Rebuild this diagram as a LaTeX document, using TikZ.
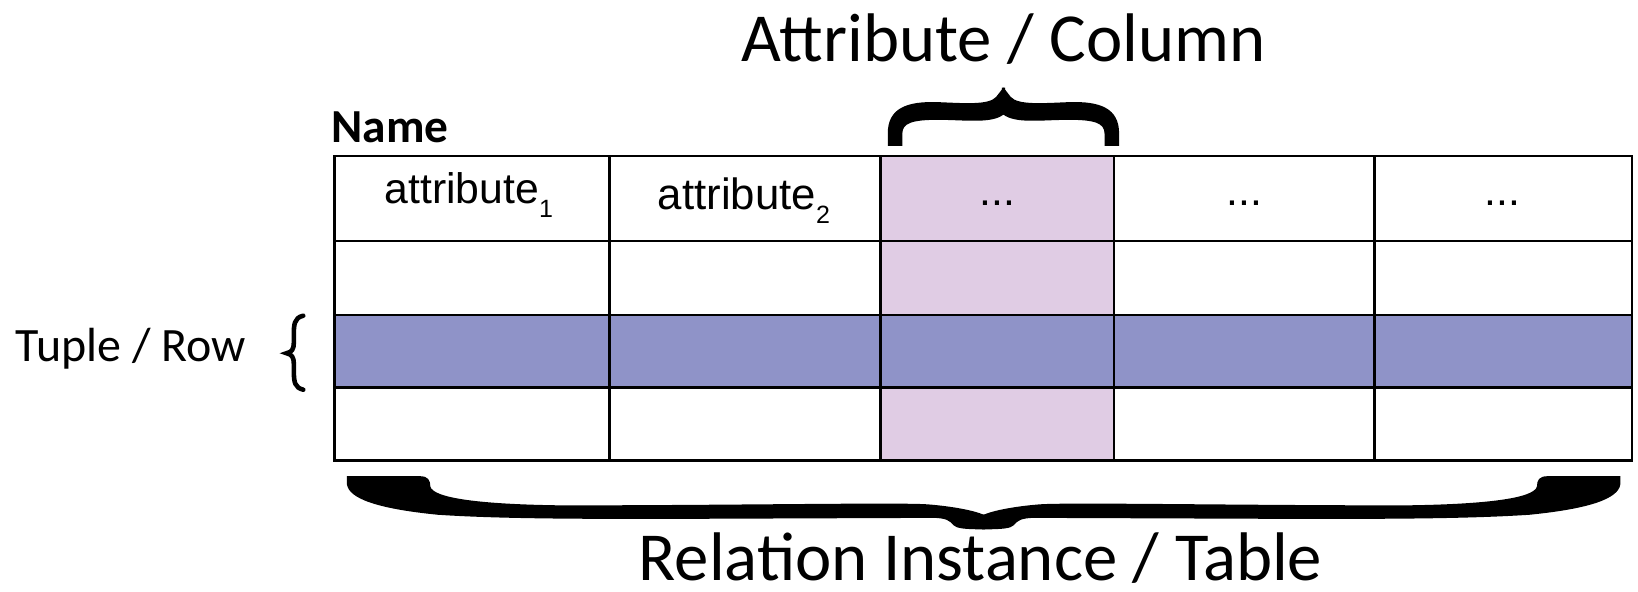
\documentclass[tikz,border=0pt]{standalone}
\usepackage{fontspec}
\setmainfont{Liberation Sans}
\newfontfamily\carl{Carlito}
\definecolor{colpurple}{RGB}{224,204,228}
\definecolor{rowblue}{RGB}{143,147,200}
\tikzset{
  grid line/.style={draw=black, line width=2.2pt},
  celltext/.style={anchor=base, inner sep=0pt, font=\fontsize{41}{43}\selectfont},
  bigtitle/.style={anchor=base, inner sep=0pt, font=\carl\fontsize{66}{70}\selectfont},
  braceshape/.style={fill=black, draw=none}
}
\begin{document}
\begin{tikzpicture}[x=1pt,y=-1pt]
\useasboundingbox (0,0) rectangle (1572,568);
% fills
\fill[colpurple] (845,150) rectangle (1069,442);
\fill[rowblue] (321,302) rectangle (1566,372);
% grid
\draw[grid line] (321,150) rectangle (1566,442);
\foreach \xx in {585,845,1069,1319} \draw[grid line] (\xx,150) -- (\xx,442);
\foreach \yy in {231,302,372} \draw[grid line] (321,\yy) -- (1566,\yy);
% header texts
\node[celltext] (a1) at (450,195) {attribute\raisebox{-0.33em}{\fontsize{24}{26}\selectfont 1}};
\node[celltext, font=\fontsize{42}{44}\selectfont] (a2) at (714,201) {attribute\raisebox{-0.33em}{\fontsize{24}{26}\selectfont 2}};
\node[celltext] (d3) at (957,197) {...};
\node[celltext] (d4) at (1194,197) {...};
\node[celltext] (d5) at (1442,197) {...};
% labels
\node[anchor=base west, inner sep=0pt, font=\carl\bfseries\fontsize{45.5}{47}\selectfont] (name) at (318,137) {Name};
\node[bigtitle] (attr) at (963,59) {Attribute / Column};
\node[bigtitle] (rel) at (941,557) {Relation Instance / Table};
\node[anchor=base west, inner sep=0pt, font=\carl\fontsize{46}{48}\selectfont] (tuple) at (15,347) {Tuple / Row};
% left brace
\draw[line width=4.4pt, line cap=round] (291,303) .. controls (282,305) and (282,312) .. (282,322) -- (282,329) .. controls (282,335) and (280,338) .. (275,339) .. controls (280,340) and (282,343) .. (282,349) -- (282,356) .. controls (282,367) and (283,372) .. (291,374);
% top brace (two mirrored halves)
\foreach \s in {1,-1}{
\begin{scope}[shift={(963,0)}, xscale=\s]
\fill[braceshape] (-111,140) -- (-111,128) .. controls (-111,104) and (-93,97) .. (-63,98) .. controls (-38,99) and (-14,101) .. (-7,93) -- (0,84) -- (1.5,84) -- (1.5,110) -- (0,110) .. controls (-12,119) and (-37,115) .. (-63,115) .. controls (-87,115) and (-97,118) .. (-97,128) -- (-97,140) -- cycle;
\end{scope}}
% bottom brace (two mirrored halves)
\foreach \s in {1,-1}{
\begin{scope}[shift={(944,0)}, xscale=\s]
\fill[braceshape] (-611,457) -- (-541,457) .. controls (-533,457) and (-531,461) .. (-531,467) .. controls (-528,478) and (-484,484) .. (-404,485) .. controls (-244,485) and (-84,482) .. (-54,484) .. controls (-29,486) and (-9,490) .. (0,494) -- (1.5,494) -- (1.5,508) -- (0,508) .. controls (-19,508) and (-26,507) .. (-29,504) .. controls (-32,500) and (-36,497) .. (-49,497) -- (-304,498) .. controls (-384,498) and (-464,498) .. (-524,494) .. controls (-584,488) and (-609,478) .. (-611,465) -- cycle;
\end{scope}}
\end{tikzpicture}
\end{document}
